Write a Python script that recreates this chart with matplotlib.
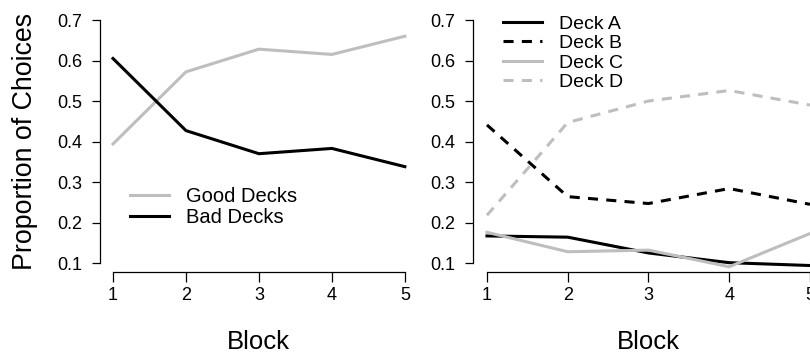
import matplotlib
matplotlib.use("Agg")
import matplotlib.pyplot as plt

plt.rcParams['font.family'] = ['Liberation Sans', 'DejaVu Sans']

blocks = [1, 2, 3, 4, 5]
good_decks = [0.394, 0.572, 0.628, 0.615, 0.660]
bad_decks = [0.605, 0.427, 0.370, 0.383, 0.338]
deck_a = [0.167, 0.164, 0.125, 0.101, 0.094]
deck_b = [0.441, 0.264, 0.247, 0.284, 0.245]
deck_c = [0.176, 0.128, 0.132, 0.091, 0.173]
deck_d = [0.218, 0.447, 0.500, 0.526, 0.490]
yticks = [0.1, 0.2, 0.3, 0.4, 0.5, 0.6, 0.7]
ytick_labels = ["0.1", "0.2", "0.3", "0.4", "0.5", "0.6", "0.7"]

W, H = 810, 356
fig = plt.figure(figsize=(W / 100, H / 100), dpi=100)

GRAY = '#bebebe'
LW = 2.2
DASH = (0, (3.3, 2.7))


def px_axes(left, right, top, bottom):
    return fig.add_axes([left / W, (H - bottom) / H, (right - left) / W, (bottom - top) / H])


def style(ax, xlim):
    ax.set_xlim(*xlim)
    ax.set_ylim(0.078, 0.72)
    ax.spines['top'].set_visible(False)
    ax.spines['right'].set_visible(False)
    ax.spines['left'].set_bounds(0.1, 0.7)
    ax.spines['bottom'].set_bounds(1, 5)
    for s in ('left', 'bottom'):
        ax.spines[s].set_linewidth(0.9)
    ax.set_xticks(blocks)
    ax.set_xticklabels([str(b) for b in blocks])
    ax.set_yticks(yticks)
    ax.set_yticklabels(ytick_labels)
    ax.tick_params(axis='both', labelsize=13, width=0.9, length=6)
    ax.tick_params(axis='y', pad=7)
    ax.tick_params(axis='x', pad=4, length=7)
    ax.patch.set_visible(False)


ax1 = px_axes(100, 418, 11.9, 272)
style(ax1, (0.822, 5.18))
ax1.plot(blocks, good_decks, color=GRAY, lw=LW, label='Good Decks')
ax1.plot(blocks, bad_decks, color='black', lw=LW, label='Bad Decks')
ax1.legend(loc='upper left', bbox_to_anchor=(130 / W, 1 - 187 / H), bbox_transform=fig.transFigure,
           frameon=False, fontsize=14.5, handlelength=1.95, handletextpad=0.85,
           labelspacing=0.1, borderpad=0, borderaxespad=0)

ax2 = px_axes(473, 824.5, 11.9, 272)
style(ax2, (0.827, 5.18))
ax2.plot(blocks, deck_a, color='black', lw=LW, label='Deck A')
ax2.plot(blocks, deck_b, color='black', lw=LW, linestyle=DASH, label='Deck B')
ax2.plot(blocks, deck_c, color=GRAY, lw=LW, label='Deck C')
ax2.plot(blocks, deck_d, color=GRAY, lw=LW, linestyle=DASH, label='Deck D')
ax2.legend(loc='upper left', bbox_to_anchor=(503 / W, 1 - 15 / H), bbox_transform=fig.transFigure,
           frameon=False, fontsize=14, handlelength=2.0, handletextpad=0.9,
           labelspacing=0.1, borderpad=0, borderaxespad=0)

fig.text(25 / W, 1 - 141 / H, 'Proportion of Choices', rotation=90, ha='center', va='center', fontsize=19.3)
fig.text(258 / W, 1 - 342 / H, 'Block', ha='center', va='center', fontsize=18.5)
fig.text(648 / W, 1 - 342 / H, 'Block', ha='center', va='center', fontsize=18.5)

fig.savefig('out.png', dpi=100)
